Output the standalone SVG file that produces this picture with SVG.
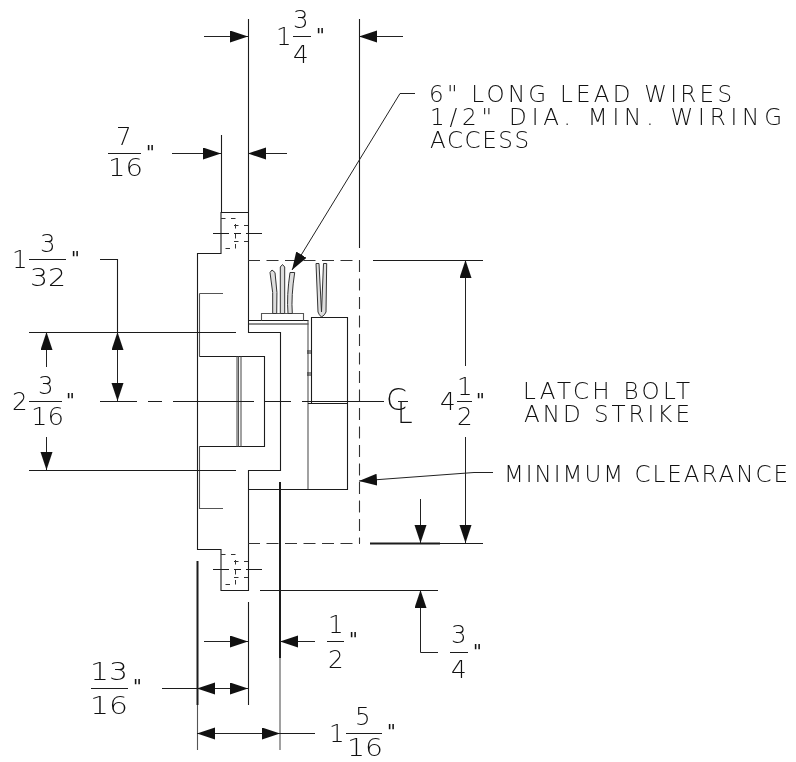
<svg xmlns="http://www.w3.org/2000/svg" width="796" height="762" viewBox="0 0 796 762">
<style>
.l{fill:none;stroke:#1c1c1c;stroke-width:1.1}
.g{fill:none;stroke:#555;stroke-width:1.1}
.h{fill:none;stroke:#1c1c1c;stroke-width:2}
.w{fill:#dedede;stroke:#333;stroke-width:1}
.d{fill:none;stroke:#333;stroke-width:1.1;stroke-dasharray:12 6.500}
.s{fill:none;stroke:#333;stroke-width:1;stroke-dasharray:4.500 5.500}
.a{fill:none;stroke:#222;stroke-width:1;marker-end:url(#ah)}
.b{fill:none;stroke:#222;stroke-width:1;marker-start:url(#ah);marker-end:url(#ah)}
.x{filter:url(#gray)}
text{font-family:"DejaVu Sans","Liberation Sans",sans-serif;font-weight:200;fill:#111}
.t{font-size:23px}
.n{font-size:24.5px}
.m{font-size:19px;font-weight:400}
</style>
<defs>
<marker id="ah" markerUnits="userSpaceOnUse" markerWidth="20" markerHeight="14" refX="18" refY="6" orient="auto-start-reverse"><path d="M0,0L18,6L0,12Z" fill="#111"/></marker>
<filter id="gray" filterUnits="userSpaceOnUse" x="0" y="0" width="796" height="762" color-interpolation-filters="sRGB"><feOffset dx="0" dy="0"/></filter>
</defs>
<g id="latch-body">
<path class="l" d="M197.500 253.500H221V212.500H248.500V332.500H280.500V470.500H248.500V590.500H221V549.500H197.500Z"/>
<path class="g" d="M199.500 293.500H223M199.500 293.500V356.500M199.500 446.500V508.500H223"/>
<path class="l" d="M199.500 356.500H264.500V446.500H199.500"/>
<path class="g" d="M237 356.500V446.500M238.500 356.500V446.500M241 356.500V446.500"/>
<path class="l" d="M248.500 320.500H308.500M248.500 324H308.500"/>
<path class="g" d="M308 320.500V489.500"/>
<path class="g" d="M261.500 320.500V313.500H303.500V320.500"/>
<path class="l" d="M311.500 403.500V317.500H347.500V489.500H248.500"/>
<path class="l" d="M308 403.500H347.500M307 351H312M307 353H312M307 373H312M307 375H312"/>
</g>
<g id="mounting-holes">
<path class="s" d="M221 218.500H235.500V248.500H221M234 225.500H248M234 241.500H248"/>
<path class="s" d="M221 554.500H235.500V584.500H221M234 561.500H248M234 577.500H248"/>
<path class="l" d="M213 233.500H229M234 233.500H241M246 233.500H262M213 569.500H229M234 569.500H241M246 569.500H262"/>
</g>
<g id="lead-wires">
<path class="w" d="M270 272.500L272 270L275 272.500Q278 292 276.700 313.500H272.700Q274 292 270 272.500Z"/>
<path class="w" d="M280.300 267L282.500 264.500L284.700 267V313.500H280.300Z"/>
<path class="w" d="M290 272.500H294.700Q291 296 292.300 313.500H288Q286.500 296 290 272.500Z"/>
<path class="w" d="M316 263.500H319L321.500 312L323.500 263.500H326.700L326 312Q325 315 321.500 317Q319 315 318 312Z"/>
</g>
<g id="connectors">
<path class="d" d="M248 260.500H360M359.500 260V543M248 543.500H360"/>
<path class="l" d="M373 260.500H483M370 543.500H483M359.500 19V248"/>
<path class="h" d="M370 543.500H440"/>
<path class="l" d="M248.500 19V212M221.500 135V212M29 332.500H236M29 470.500H236M260 590.500H438"/>
<path class="l" d="M100 401.500H137M148 401.500H162M173 401.500H254M265 401.500H291M302 401.500H384M398 401.500H408"/>
<path class="h" d="M197.500 561V705M280 482V658"/>
<path class="g" d="M197.500 705V750M280 658V750"/>
<path class="l" d="M248.500 602V705"/>
<path class="a" d="M204 36.500H248"/><path class="a" d="M403 36.500H359"/>
<path class="a" d="M172 153.500H221"/><path class="a" d="M287 153.500H248"/>
<path class="a" d="M415 93.500H400L292 270"/>
<path class="a" d="M46.500 367V332"/><path class="a" d="M46.500 437V470"/>
<path class="l" d="M100 259.500H117.500V332"/>
<path class="b" d="M117.500 332V401"/>
<path class="a" d="M465.500 366V260"/><path class="a" d="M465.500 437V543"/>
<path class="a" d="M420.500 499V543"/>
<path class="a" d="M493 472.500H474L359 481"/>
<path class="a" d="M438 652.500H420.500V590"/>
<path class="a" d="M204 641.500H248"/><path class="a" d="M315 641.500H280"/>
<path class="l" d="M162 688.500H197"/><path class="b" d="M197 688.500H248"/>
<path class="b" d="M197 733.500H280"/><path class="l" d="M280 733.500H315"/>
</g>
<g id="dim-fractions">
<path class="l" d="M293 36.500H311M108 153.500H141M29 259.500H66M29 401.500H62M457 401.500H472M327 641.500H344M450 652.500H468M91 688.500H128M346 733.500H382"/>
</g>
<g id="dim-labels" class="x">
<text class="n" x="276" y="45">1</text><text class="n" x="293" y="28">3</text><text class="n" x="293" y="63">4</text><text class="m" x="316" y="42">"</text>
<text class="n" x="116" y="145">7</text><text class="n" x="108" y="176" textLength="35" lengthAdjust="spacingAndGlyphs">16</text><text class="m" x="146" y="159">"</text>
<text class="n" x="12" y="268">1</text><text class="n" x="40" y="252">3</text><text class="n" x="30" y="286" textLength="36" lengthAdjust="spacingAndGlyphs">32</text><text class="m" x="71" y="265">"</text>
<text class="n" x="12" y="410">2</text><text class="n" x="38" y="394">3</text><text class="n" x="31" y="425" textLength="33" lengthAdjust="spacingAndGlyphs">16</text><text class="m" x="66" y="407">"</text>
<text class="n" x="440" y="410">4</text><text class="n" x="457" y="395">1</text><text class="n" x="457" y="425">2</text><text class="m" x="476" y="407">"</text>
<text class="n" x="328" y="633">1</text><text class="n" x="328" y="668">2</text><text class="m" x="349" y="646">"</text>
<text class="n" x="451" y="643">3</text><text class="n" x="451" y="678">4</text><text class="m" x="473" y="658">"</text>
<text class="n" x="90" y="680" textLength="38" lengthAdjust="spacingAndGlyphs">13</text><text class="n" x="90" y="714" textLength="38" lengthAdjust="spacingAndGlyphs">16</text><text class="m" x="133" y="693">"</text>
<text class="n" x="329" y="742">1</text><text class="n" x="355" y="725">5</text><text class="n" x="347" y="756" textLength="36" lengthAdjust="spacingAndGlyphs">16</text><text class="m" x="387" y="738">"</text>
</g>
<g id="notes" class="x">
<text class="t" x="429" y="102" textLength="303" lengthAdjust="spacing">6" LONG LEAD WIRES</text>
<text class="t" x="430" y="125" textLength="352" lengthAdjust="spacing">1/2" DIA. MIN. WIRING</text>
<text class="t" x="430" y="148" textLength="99" lengthAdjust="spacing">ACCESS</text>
<text class="t" x="523" y="399" textLength="167" lengthAdjust="spacing">LATCH BOLT</text>
<text class="t" x="524" y="422" textLength="166" lengthAdjust="spacing">AND STRIKE</text>
<text class="t" x="504" y="482" textLength="284" lengthAdjust="spacing">MINIMUM CLEARANCE</text>
<text style="font-size:30px" x="386" y="410">C</text><text style="font-size:28px" x="397" y="423">L</text>
</g>
</svg>
